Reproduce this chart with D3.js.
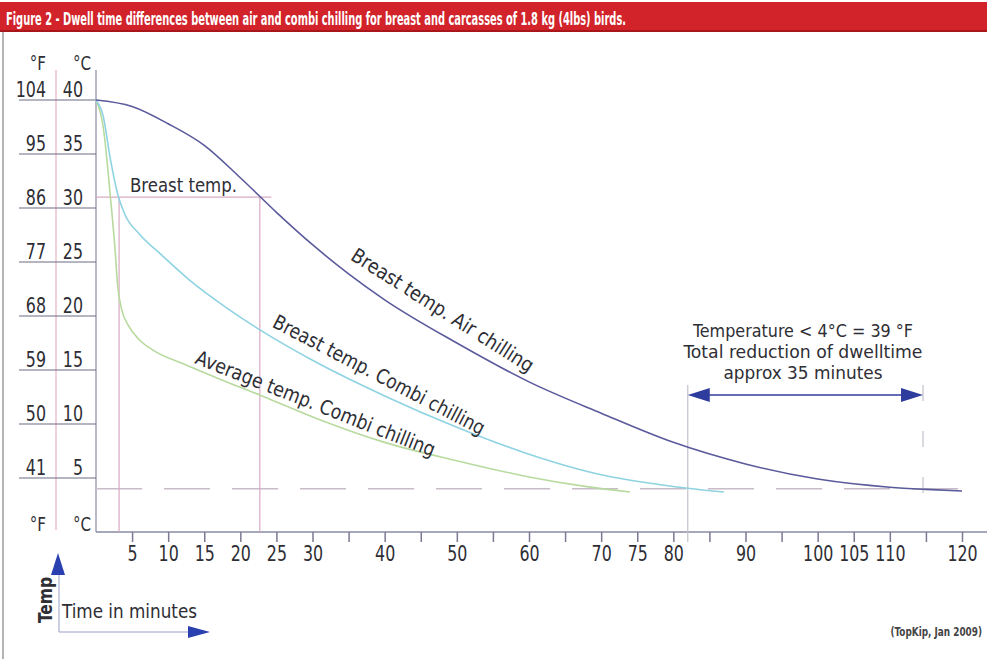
<!DOCTYPE html>
<html>
<head>
<meta charset="utf-8">
<script src="https://cdn.jsdelivr.net/npm/d3@7"></script>
<style>
  body { margin: 0; background: #fff; }
  svg { display: block; }
  text { font-family: "Liberation Sans Narrow", "DejaVu Sans Condensed", "Arial Narrow", sans-serif; fill: #2e2e34; }
  .tick text { font-size: 21px; }
  .tick line { stroke: #7a7a92; }
</style>
</head>
<body>
<div id="chart"></div>
<script>
// Data (minutes, °C)
const airChilling = [[0, 40], [5, 39.4], [10, 37.8], [15, 35.8], [20, 32.8], [25, 29.6], [30, 26.6],
  [35, 23.9], [40, 21.5], [50, 17.5], [60, 13.9], [70, 11.0], [80, 8.3], [90, 6.3], [100, 4.9],
  [110, 4.15], [115, 3.95], [120, 3.8]];
const breastCombi = [[0, 40], [1, 38.5], [2, 34.5], [3, 31.3], [4, 29.4], [6, 27.6], [9, 25.7],
  [13, 23.3], [18, 20.8], [23, 18.6], [30, 15.9], [40, 12.6], [50, 9.7], [60, 7.2], [70, 5.3],
  [78, 4.4], [82, 4.05], [87, 3.7]];
const averageCombi = [[0, 40], [1, 37.5], [2, 31], [2.6, 26.5], [3, 22.8], [3.6, 20.5], [4.5, 19.1],
  [6, 17.8], [8, 16.8], [12, 15.6], [17, 14.2], [23, 12.6], [31, 10.4], [40, 8.3], [50, 6.6],
  [60, 5.1], [68, 4.2], [74, 3.7]];

const celsiusTicks = [40, 35, 30, 25, 20, 15, 10, 5];
const fahrenheitTicks = [104, 95, 86, 77, 68, 59, 50, 41];
const minuteTicks = d3.range(5, 121, 5);
const minuteLabels = [5, 10, 15, 20, 25, 30, 40, 50, 60, 70, 75, 80, 90, 100, 105, 110, 120];

const limitTemp = 4;          // °C threshold
const combiDone = 82;         // minutes, combi reaches 4°C
const airDone = 114.6;        // minutes, air reaches 4°C
const breastMarkTemp = 31;    // "Breast temp." reference
const breastMarkCombi = 3.2;
const breastMarkAir = 22.7;

const W = 987, H = 659;
const SX = 0.84; // horizontal squeeze to imitate the condensed face
const svg = d3.select("#chart").append("svg").attr("width", W).attr("height", H);

const x = d3.scaleLinear().domain([0, 120]).range([96, 962]);
const y = d3.scaleLinear().domain([0, 40]).range([532, 100]);

// narrow text helper
function label(px, py, txt, size, anchor, sx) {
    return svg.append("text")
        .attr("transform", `translate(${px},${py}) scale(${sx || SX},1)`)
        .attr("text-anchor", anchor || "start")
        .style("font-size", size + "px")
        .text(txt);
}

// Title bar
svg.append("rect").attr("x", 0).attr("y", 2).attr("width", W).attr("height", 30).attr("fill", "#d2232a");
svg.append("rect").attr("x", 0).attr("y", 30).attr("width", W).attr("height", 2).attr("fill", "#a8161c");
svg.append("text")
    .attr("x", 6).attr("y", 25)
    .attr("textLength", 620).attr("lengthAdjust", "spacingAndGlyphs")
    .style("font-size", "17px").style("font-weight", "bold").style("fill", "#fff")
    .text("Figure 2 - Dwell time differences between air and combi chilling for breast and carcasses of 1.8 kg (4lbs) birds.");

// Frame on the left
svg.append("line").attr("x1", 3).attr("x2", 3).attr("y1", 32).attr("y2", H)
    .attr("stroke", "#b4b4b4").attr("stroke-width", 2);

// Pink guide between the two unit columns
svg.append("line").attr("x1", 56).attr("x2", 56).attr("y1", 70).attr("y2", 530)
    .attr("stroke", "#e4b4c0").attr("stroke-width", 1.2);

// Y axis line
svg.append("line").attr("x1", x(0)).attr("x2", x(0)).attr("y1", 70).attr("y2", y(0))
    .attr("stroke", "#8a8aa6").attr("stroke-width", 1.2);

// Y labels with underlines
celsiusTicks.forEach((c, i) => {
    svg.append("line").attr("x1", 19).attr("x2", x(0)).attr("y1", y(c)).attr("y2", y(c))
        .attr("stroke", "#6c6c84").attr("stroke-width", 1.2);
    label(46, y(c) - 3, fahrenheitTicks[i], 21, "end");
    label(83, y(c) - 3, c, 21, "end");
});
[70, 531].forEach(yy => {
    label(46, yy, "°F", 20, "end");
    label(91, yy, "°C", 20, "end");
});

// X axis
svg.append("line").attr("x1", x(0)).attr("x2", W).attr("y1", y(0)).attr("y2", y(0))
    .attr("stroke", "#8a8aa6").attr("stroke-width", 1.5);
const xAxis = svg.append("g")
    .attr("transform", `translate(0,${y(0)})`)
    .call(d3.axisBottom(x).tickValues(minuteTicks).tickSize(10).tickPadding(4)
        .tickFormat(d => minuteLabels.includes(d) ? d : ""));
xAxis.select(".domain").remove();
xAxis.selectAll(".tick line").attr("stroke-width", 1.5);
xAxis.selectAll(".tick text").attr("transform", `scale(${SX},1)`).attr("fill", "#2e2e34");

// 4°C dashed reference
svg.append("line").attr("x1", x(0)).attr("x2", x(120.5)).attr("y1", y(limitTemp)).attr("y2", y(limitTemp))
    .attr("stroke", "#c8bcc8").attr("stroke-width", 1.5).attr("stroke-dasharray", "46,22");

// Breast temp markers
svg.append("line").attr("x1", x(0)).attr("x2", x(24.3)).attr("y1", y(breastMarkTemp)).attr("y2", y(breastMarkTemp))
    .attr("stroke", "#d9a9c2").attr("stroke-width", 1.2);
[breastMarkCombi, breastMarkAir].forEach(m => {
    svg.append("line").attr("x1", x(m)).attr("x2", x(m)).attr("y1", y(breastMarkTemp)).attr("y2", y(0))
        .attr("stroke", "#d9a9c2").attr("stroke-width", 1.2);
});
svg.append("text").attr("x", 130).attr("y", 192)
    .attr("textLength", 107).attr("lengthAdjust", "spacingAndGlyphs")
    .style("font-size", "20px").text("Breast temp.");

// Vertical markers at the 4°C crossings
svg.append("line").attr("x1", x(combiDone)).attr("x2", x(combiDone)).attr("y1", 385).attr("y2", 542)
    .attr("stroke", "#c4c0cc").attr("stroke-width", 1.2);
svg.append("line").attr("x1", x(airDone)).attr("x2", x(airDone)).attr("y1", 385).attr("y2", 520)
    .attr("stroke", "#c4c0cc").attr("stroke-width", 1.2).attr("stroke-dasharray", "16,30");

// Curves
const line = d3.line().x(d => x(d[0])).y(d => y(d[1])).curve(d3.curveMonotoneX);
svg.append("path").datum(averageCombi).attr("d", line).attr("fill", "none")
    .attr("stroke", "#b8da9e").attr("stroke-width", 1.6);
svg.append("path").datum(breastCombi).attr("d", line).attr("fill", "none")
    .attr("stroke", "#8fd3e2").attr("stroke-width", 1.6);
svg.append("path").datum(airChilling).attr("d", line).attr("fill", "none")
    .attr("stroke", "#5a5a9c").attr("stroke-width", 1.6);

// Curve labels
const curveLabel = (cx, cy, angle, len, txt) => svg.append("text")
    .attr("transform", `translate(${cx},${cy}) rotate(${angle})`)
    .attr("x", -len / 2)
    .attr("textLength", len).attr("lengthAdjust", "spacingAndGlyphs")
    .style("font-size", "20px").text(txt);
curveLabel(439, 316, 32.5, 212, "Breast temp. Air chilling");
curveLabel(376, 381, 27.5, 236, "Breast temp. Combi chilling");
curveLabel(313, 410, 21.5, 256, "Average temp. Combi chilling");

// Double arrow with annotation
const arrowY = 395;
const blue = "#2e3c9e";
svg.append("line").attr("x1", x(combiDone) + 15).attr("x2", x(airDone) - 15).attr("y1", arrowY).attr("y2", arrowY)
    .attr("stroke", blue).attr("stroke-width", 1.3);
svg.append("path").attr("fill", blue)
    .attr("d", `M${x(combiDone)},${arrowY} l22,-7 l0,14 Z M${x(airDone)},${arrowY} l-22,-7 l0,14 Z`);
[["Temperature < 4°C = 39 °F", 220], ["Total reduction of dwelltime", 239], ["approx 35 minutes", 159]]
    .forEach(([t, len], i) => {
        svg.append("text").attr("x", 803 - len / 2).attr("y", 337 + i * 21)
            .attr("textLength", len).attr("lengthAdjust", "spacingAndGlyphs")
            .style("font-size", "18px").text(t);
    });

// Legend arrows at bottom left
svg.append("line").attr("x1", 59).attr("x2", 59).attr("y1", 574).attr("y2", 632)
    .attr("stroke", "#9aa0c8").attr("stroke-width", 1);
svg.append("line").attr("x1", 59).attr("x2", 190).attr("y1", 632).attr("y2", 632)
    .attr("stroke", "#9aa0c8").attr("stroke-width", 1);
svg.append("path").attr("fill", "#2a40b0").attr("d", "M58,553 l7,22 l-14,0 Z");
svg.append("path").attr("fill", "#2a40b0").attr("d", "M210,632 l-22,-6 l0,12 Z");
svg.append("text").attr("transform", "translate(52,600) rotate(-90)")
    .attr("x", -23).attr("textLength", 46).attr("lengthAdjust", "spacingAndGlyphs")
    .style("font-size", "19px").style("font-weight", "bold").text("Temp");
svg.append("text").attr("x", 62).attr("y", 618)
    .attr("textLength", 135).attr("lengthAdjust", "spacingAndGlyphs")
    .style("font-size", "20px").text("Time in minutes");

// Source
label(982, 636, "(TopKip, Jan 2009)", 13, "end", 0.76)
    .style("font-weight", "bold").style("fill", "#444");
</script>
</body>
</html>
